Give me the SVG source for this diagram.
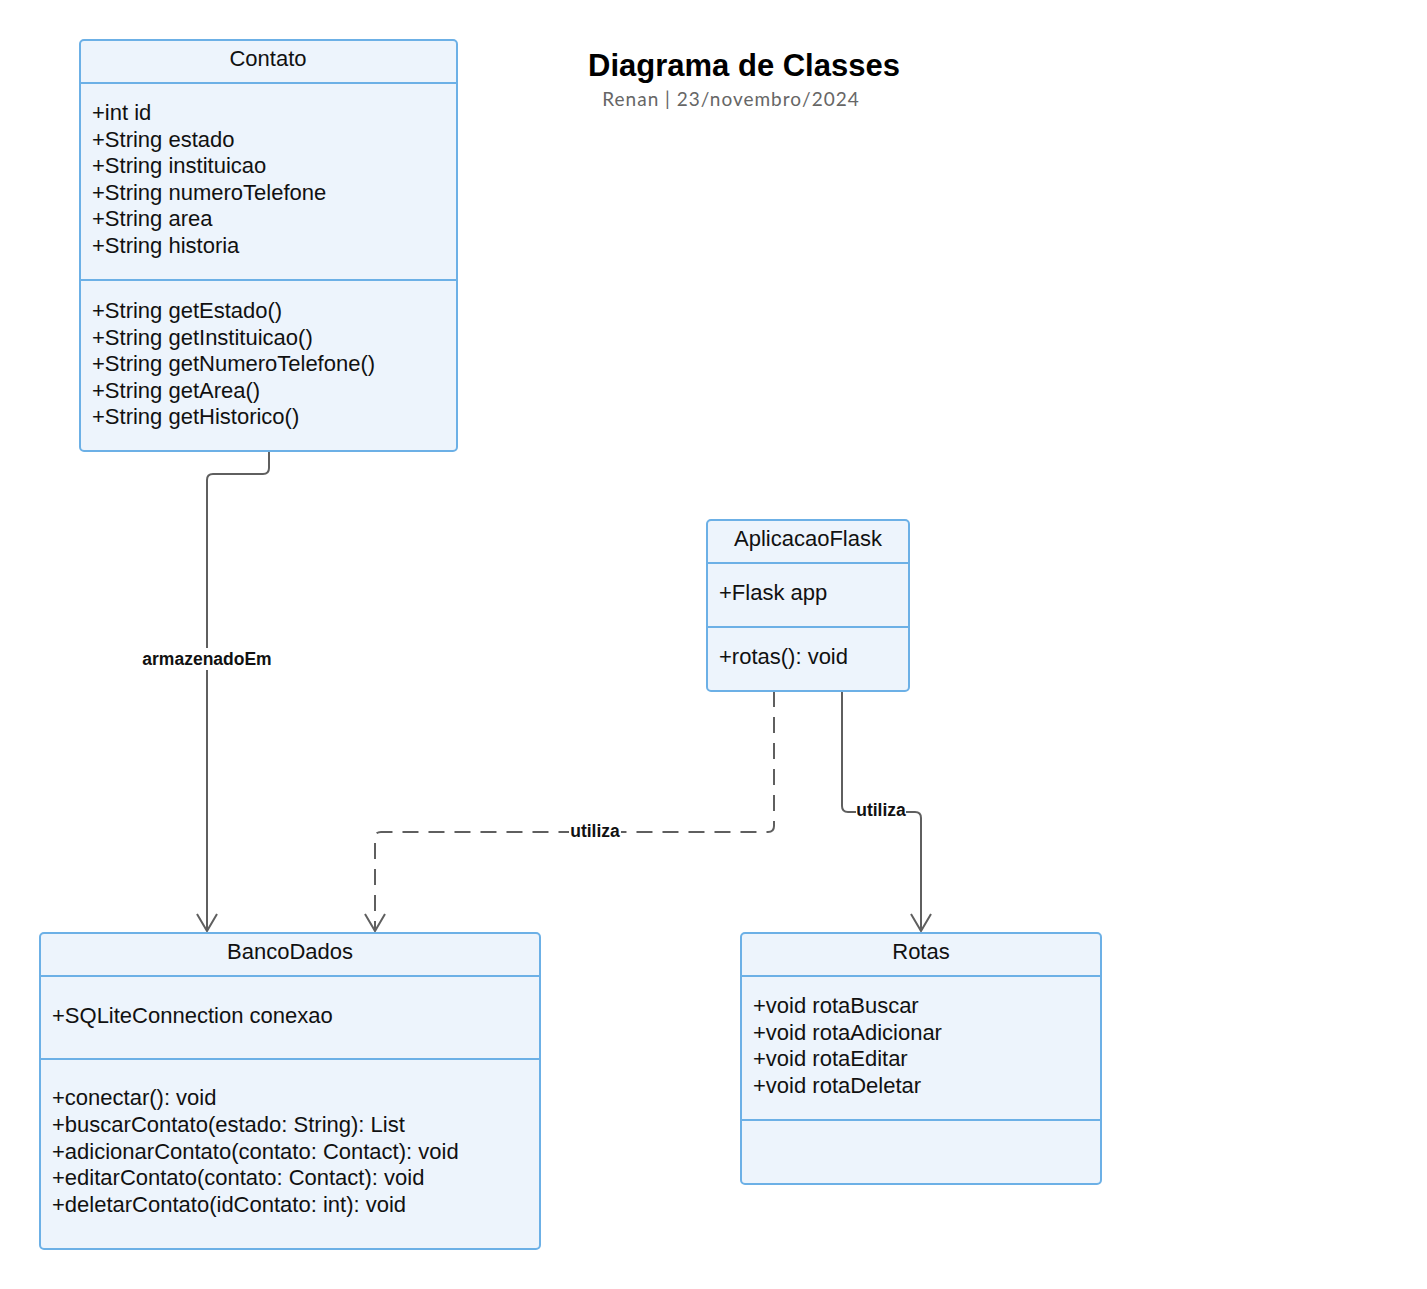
<svg xmlns="http://www.w3.org/2000/svg" width="1427" height="1289" viewBox="0 0 1427 1289">
  <style>
    .box { fill: #edf4fc; stroke: #6cb0e6; stroke-width: 2; }
    .div { stroke: #6cb0e6; stroke-width: 2; }
    .t { font-family: "Liberation Sans", Arial, sans-serif; font-size: 22px; fill: #111; }
    .h { font-family: "Liberation Sans", Arial, sans-serif; font-size: 22px; fill: #111; text-anchor: middle; }
    .edge { fill: none; stroke: #5f5f5f; stroke-width: 2; }
    .dash { stroke-dasharray: 16 10; }
    .lbl { font-family: "Liberation Sans", Arial, sans-serif; font-size: 17.5px; font-weight: bold; fill: #111; text-anchor: middle; }
    .lblbg { fill: #ffffff; }
  </style>
  <defs>
    <!-- open V arrowhead, pointing along the path direction -->
    <marker id="open" viewBox="0 0 20 22" refX="18" refY="11" markerWidth="20" markerHeight="22" markerUnits="userSpaceOnUse" orient="auto">
      <path d="M1 1 L18 11 L1 21" fill="none" stroke="#5f5f5f" stroke-width="2"/>
    </marker>
  </defs>
  <rect width="1427" height="1289" fill="#ffffff"/>

  <g id="title">
    <text x="744" y="76" font-family="'Liberation Sans', Arial, sans-serif" font-size="31" font-weight="bold" text-anchor="middle" fill="#000">Diagrama de Classes</text>
    <text x="731" y="106" font-family="Lato, 'Noto Sans', sans-serif" font-size="19" letter-spacing="1" text-anchor="middle" fill="#666">Renan | 23/novembro/2024</text>
  </g>

  <g id="connectors">
    <path class="edge" d="M269 451 V468 Q269 474 263 474 H213 Q207 474 207 480 V931" marker-end="url(#open)"/>
    <rect class="lblbg" x="138" y="648" width="138" height="22"/>
    <text class="lbl" x="207" y="665">armazenadoEm</text>

    <path class="edge dash" d="M774 691 V826 Q774 832 768 832 H381 Q375 832 375 838 V931" marker-end="url(#open)"/>
    <rect class="lblbg" x="569" y="821" width="52" height="20"/>
    <text class="lbl" x="595" y="837">utiliza</text>

    <path class="edge" d="M842 691 V806 Q842 812 848 812 H915 Q921 812 921 818 V931" marker-end="url(#open)"/>
    <rect class="lblbg" x="856" y="801" width="50" height="18"/>
    <text class="lbl" x="881" y="816">utiliza</text>
  </g>

  <g id="Contato">
    <rect class="box" x="80" y="40" width="377" height="411" rx="4"/>
    <line class="div" x1="80" y1="83" x2="457" y2="83"/>
    <line class="div" x1="80" y1="280" x2="457" y2="280"/>
    <text class="h" x="268" y="66">Contato</text>
    <text class="t" x="92" y="120">+int id</text>
    <text class="t" x="92" y="147">+String estado</text>
    <text class="t" x="92" y="173">+String instituicao</text>
    <text class="t" x="92" y="200">+String numeroTelefone</text>
    <text class="t" x="92" y="226">+String area</text>
    <text class="t" x="92" y="253">+String historia</text>
    <text class="t" x="92" y="318">+String getEstado()</text>
    <text class="t" x="92" y="345">+String getInstituicao()</text>
    <text class="t" x="92" y="371">+String getNumeroTelefone()</text>
    <text class="t" x="92" y="398">+String getArea()</text>
    <text class="t" x="92" y="424">+String getHistorico()</text>
  </g>

  <g id="AplicacaoFlask">
    <rect class="box" x="707" y="520" width="202" height="171" rx="4"/>
    <line class="div" x1="707" y1="563" x2="909" y2="563"/>
    <line class="div" x1="707" y1="627" x2="909" y2="627"/>
    <text class="h" x="808" y="546">AplicacaoFlask</text>
    <text class="t" x="719" y="600">+Flask app</text>
    <text class="t" x="719" y="664">+rotas(): void</text>
  </g>

  <g id="BancoDados">
    <rect class="box" x="40" y="933" width="500" height="316" rx="4"/>
    <line class="div" x1="40" y1="976" x2="540" y2="976"/>
    <line class="div" x1="40" y1="1059" x2="540" y2="1059"/>
    <text class="h" x="290" y="959">BancoDados</text>
    <text class="t" x="52" y="1023">+SQLiteConnection conexao</text>
    <text class="t" x="52" y="1105">+conectar(): void</text>
    <text class="t" x="52" y="1132">+buscarContato(estado: String): List</text>
    <text class="t" x="52" y="1159">+adicionarContato(contato: Contact): void</text>
    <text class="t" x="52" y="1185">+editarContato(contato: Contact): void</text>
    <text class="t" x="52" y="1212">+deletarContato(idContato: int): void</text>
  </g>

  <g id="Rotas">
    <rect class="box" x="741" y="933" width="360" height="251" rx="4"/>
    <line class="div" x1="741" y1="976" x2="1101" y2="976"/>
    <line class="div" x1="741" y1="1120" x2="1101" y2="1120"/>
    <text class="h" x="921" y="959">Rotas</text>
    <text class="t" x="753" y="1013">+void rotaBuscar</text>
    <text class="t" x="753" y="1040">+void rotaAdicionar</text>
    <text class="t" x="753" y="1066">+void rotaEditar</text>
    <text class="t" x="753" y="1093">+void rotaDeletar</text>
  </g>
</svg>
